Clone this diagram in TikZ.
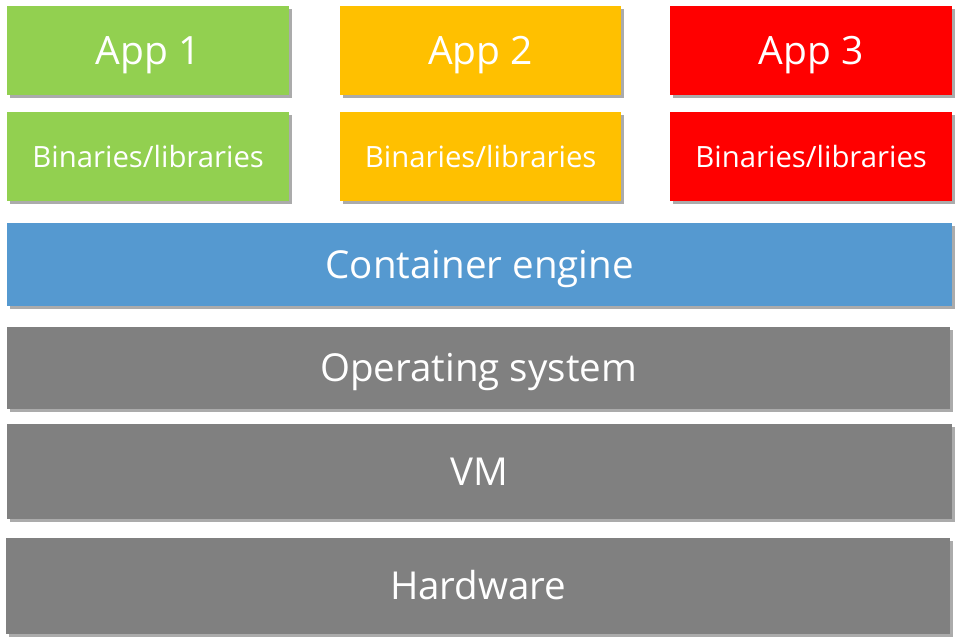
\documentclass[tikz,border=0pt]{standalone}
\usepackage{fontspec}
\setmainfont{Open Sans}
\usetikzlibrary{shadows}
\definecolor{appgreen}{HTML}{92D050}
\definecolor{apporange}{HTML}{FFC000}
\definecolor{appred}{HTML}{FF0000}
\definecolor{engblue}{HTML}{5599D0}
\definecolor{layergray}{HTML}{808080}
\definecolor{shadowgray}{HTML}{ABABAB}
\tikzset{
  layerbox/.style={rectangle, inner sep=0pt, anchor=north west, text=white, text depth=0pt,
    drop shadow={shadow xshift=3pt, shadow yshift=-3pt, fill=shadowgray, opacity=1}},
  apptext/.style={font=\fontsize{39}{44}\selectfont, text height=28pt},
  bintext/.style={font=\fontsize{29.3}{34}\selectfont, text height=21pt},
  bigtext/.style={font=\fontsize{38.5}{44}\selectfont, text height=27.5pt}
}
\begin{document}
\begin{tikzpicture}[x=1pt,y=-1pt]
\useasboundingbox (0,0) rectangle (958,644);
% apps
\node (app1) [layerbox, apptext, fill=appgreen, minimum width=282pt, minimum height=89pt] at (7,6) {App 1};
\node (app2) [layerbox, apptext, fill=apporange, minimum width=281pt, minimum height=89pt] at (340,6) {App 2};
\node (app3) [layerbox, apptext, fill=appred, minimum width=282pt, minimum height=89pt] at (670,6) {App 3};
% binaries
\node (bin1) [layerbox, bintext, fill=appgreen, minimum width=282pt, minimum height=89pt] at (7,112) {Binaries/libraries};
\node (bin2) [layerbox, bintext, fill=apporange, minimum width=281pt, minimum height=89pt] at (340,112) {Binaries/libraries};
\node (bin3) [layerbox, bintext, fill=appred, minimum width=282pt, minimum height=89pt] at (670,112) {Binaries/libraries};
% layers
\node (engine) [layerbox, bigtext, fill=engblue, minimum width=945pt, minimum height=83pt] at (7,223) {Container engine};
\node (os) [layerbox, bigtext, fill=layergray, minimum width=943pt, minimum height=82pt] at (7,327) {Operating system};
\node (vm) [layerbox, bigtext, fill=layergray, minimum width=945pt, minimum height=95pt] at (7,424) {VM};
\node (hw) [layerbox, bigtext, fill=layergray, minimum width=944pt, minimum height=96pt] at (6,538) {Hardware};
\end{tikzpicture}
\end{document}
